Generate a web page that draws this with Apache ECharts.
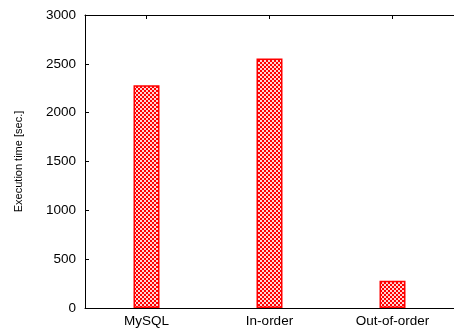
<!DOCTYPE html>
<html><head><meta charset="utf-8">
<script src="https://cdn.jsdelivr.net/npm/echarts@6/dist/echarts.min.js"></script>
<style>html,body{margin:0;padding:0;background:#fff}#c{width:454px;height:332px}</style>
</head><body><div id="c"></div>
<script>
const categories = ['MySQL', 'In-order', 'Out-of-order'];
const execTimes = [2280, 2555, 280];
const yTicks = [0, 500, 1000, 1500, 2000, 2500, 3000];

const pc = document.createElement('canvas');
pc.width = 4; pc.height = 4;
const g = pc.getContext('2d');
g.fillStyle = '#ff0000'; g.fillRect(0, 0, 4, 4);
g.fillStyle = '#ffd4d4';
g.fillRect(0, 0, 2, 2); g.fillRect(2, 2, 2, 2);

const chart = echarts.init(document.getElementById('c'), null, {renderer: 'canvas'});
const font = 'Liberation Sans, Arial, sans-serif';
chart.setOption({
  animation: false,
  grid: {left: 85, top: 15, width: 374, bottom: 24},
  xAxis: [{
    type: 'category', data: categories, position: 'bottom',
    axisLine: {lineStyle: {color: '#000', width: 1}},
    axisTick: {show: true, inside: true, alignWithLabel: true, length: 4, lineStyle: {color: '#000'}},
    axisLabel: {color: '#000', fontSize: 13.5, fontFamily: font, margin: 6}
  }, {
    type: 'category', data: categories, position: 'top',
    axisLine: {show: true, lineStyle: {color: '#000', width: 1}},
    axisTick: {show: true, inside: true, alignWithLabel: true, length: 4, lineStyle: {color: '#000'}},
    axisLabel: {show: false}
  }],
  yAxis: {
    type: 'value', min: yTicks[0], max: yTicks[yTicks.length - 1], interval: 500,
    name: 'Execution time [sec.]', nameLocation: 'middle', nameGap: 61,
    nameTextStyle: {color: '#000', fontSize: 11, fontFamily: font},
    axisLine: {show: true, lineStyle: {color: '#000', width: 1}},
    axisTick: {show: true, inside: true, length: 4, lineStyle: {color: '#000'}},
    axisLabel: {color: '#000', fontSize: 13.5, fontFamily: font, margin: 9, formatter: v => String(v)},
    splitLine: {show: false}
  },
  series: [{
    type: 'bar', data: execTimes, barWidth: 26, xAxisIndex: 0,
    itemStyle: {color: {image: pc, repeat: 'repeat'}, borderColor: '#ff0000', borderWidth: 1.5}
  }]
});
</script></body></html>
